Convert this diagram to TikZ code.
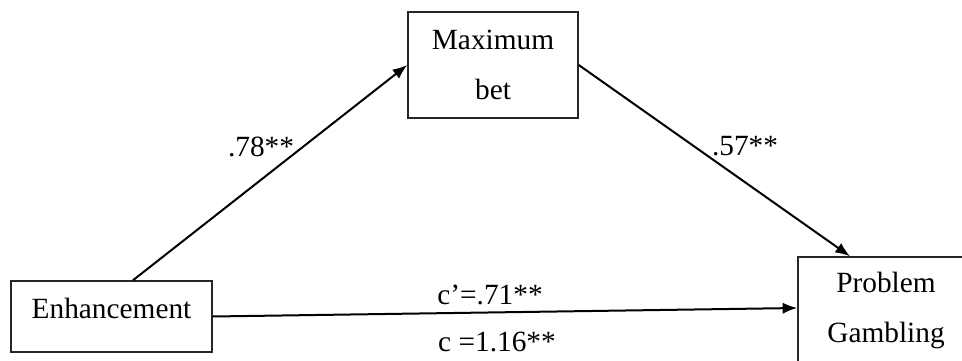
\documentclass[tikz,border=0pt]{standalone}
\usepackage{fontspec}
\setmainfont{Liberation Serif}
\usetikzlibrary{arrows.meta}
\begin{document}
\begin{tikzpicture}[x=0.75pt,y=-0.75pt,
  box/.style={draw=black!85,line width=1.1pt,inner sep=0pt,align=center,font=\fontsize{22}{37.5}\selectfont},
  lbl/.style={inner sep=0pt,font=\fontsize{22}{26}\selectfont},
  arr/.style={line width=1.5pt,-{Latex[length=11pt,width=8.5pt]}}]
\useasboundingbox (0,0) rectangle (962,360);
\node[box,minimum width=127.5pt,minimum height=79.5pt] (max) at (493,65) {Maximum\\bet};
\node[box,minimum width=150.75pt,minimum height=53.25pt,text depth=12pt] (enh) at (111.5,316.5) {Enhancement};
\node[box,minimum width=132pt,minimum height=79.5pt] (pg) at (886,310) {Problem\\Gambling};
\draw[arr] ([xshift=16.1pt]enh.north) -- (max.west);
\draw[arr] (max.east) -- ([xshift=-27pt]pg.north);
\draw[arr] (enh.east) -- ([yshift=1.5pt]pg.west);
\node[lbl] (a) at (261,147) {.78**};
\node[lbl] (b) at (745,146) {.57**};
\node[lbl] (cp) at (490,295) {c'=.71**};
\node[lbl] (c) at (497,342) {c =1.16**};
\end{tikzpicture}
\end{document}
